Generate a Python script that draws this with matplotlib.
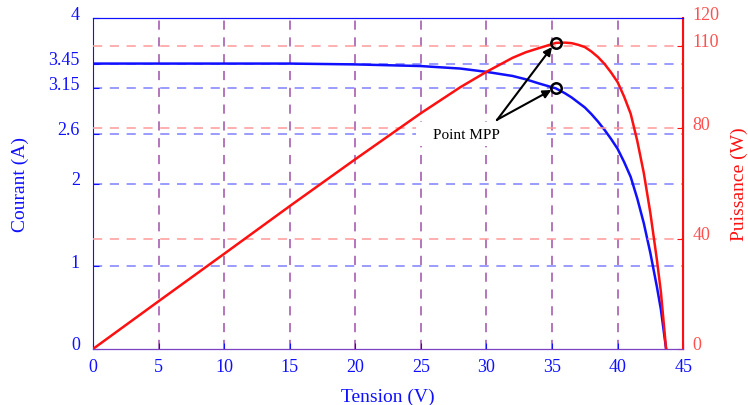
import numpy as np
import matplotlib.pyplot as plt
import matplotlib.transforms as mtransforms
from matplotlib.patches import Rectangle

plt.rcParams['font.family'] = ['Liberation Serif', 'DejaVu Serif']

# values
tension = [0, 5, 10, 15, 20, 25, 28, 30, 32, 33, 34, 35.3, 36, 36.5, 37, 37.5, 38, 38.5, 39, 39.5,
           40, 40.5, 41, 41.5, 42, 42.5, 43, 43.3, 43.7]
courant = [3.45, 3.45, 3.45, 3.45, 3.44, 3.42, 3.39, 3.35, 3.30, 3.26, 3.21, 3.15, 3.09, 3.04, 2.98,
           2.92, 2.84, 2.75, 2.65, 2.54, 2.42, 2.26, 2.08, 1.82, 1.52, 1.16, 0.75, 0.48, 0.0]
puissance = [0, 17.3, 34.5, 51.8, 68.8, 85.5, 94.9, 100.5, 105.6, 107.6, 109.1, 111.0, 111.1, 110.9,
             110.3, 109.5, 107.9, 105.9, 103.4, 100.3, 96.8, 91.5, 85.3, 75.5, 63.8, 49.3, 32.3, 20.8, 0]

v_mpp = 35.3
i_mpp = 3.15
p_mpp = 111.0

x_ticks = [0, 5, 10, 15, 20, 25, 30, 35, 40, 45]
i_ticks = [0, 1, 2, 2.6, 3.15, 3.45, 4]
p_ticks = [0, 40, 80, 110, 120]

blue = '#1010ff'
red = '#ff1010'

fig = plt.figure(figsize=(7.48, 4.06), dpi=100)
ax = fig.add_axes([0.1243, 0.138, 0.789, 0.815])
ax2 = ax.twinx()

ax.set_xlim(0, 45)
ax.set_ylim(0, 4)
ax2.set_ylim(0, 120)

# grid lines
for x in x_ticks[1:-1]:
    ax.axvline(x, color='#a050a8', ls=(0, (6, 5)), lw=1.1, zorder=1)
for y in i_ticks[1:-1]:
    ax.axhline(y, color='#8080ff', ls=(0, (6, 5)), lw=1.1, zorder=1)
for y in p_ticks[1:-1]:
    ax2.axhline(y, color='#ff9a9a', ls=(0, (6, 5)), lw=1.1, zorder=1)

# white box behind the label (hides grid only)
ax2.add_patch(Rectangle((24.6, 73.6), 9.5, 8.7, facecolor='white', edgecolor='none', zorder=2))

ax.plot(tension, courant, color=blue, lw=1.8, zorder=3)
ax2.plot(tension, puissance, color=red, lw=1.8, zorder=3)

ax.plot(v_mpp, i_mpp, 'o', mfc='none', mec='black', mew=1.8, ms=7.5, zorder=5)
ax2.plot(v_mpp, p_mpp, 'o', mfc='none', mec='black', mew=1.8, ms=7.5, zorder=5)

# annotation arrows
ax.annotate('', xy=(v_mpp - 0.35, i_mpp - 0.02), xytext=(30.8, 2.77),
            arrowprops=dict(arrowstyle='-|>', color='black', lw=1.5, mutation_scale=12,
                            shrinkA=0, shrinkB=0), zorder=6)
ax2.annotate('', xy=(v_mpp - 0.3, p_mpp - 1.5), xytext=(30.8, 83),
             arrowprops=dict(arrowstyle='-|>', color='black', lw=1.5, mutation_scale=12,
                             shrinkA=0, shrinkB=0), zorder=6)
ax2.text(28.5, 77.7, 'Point MPP', fontsize=11, ha='center', va='center', color='black', zorder=6)

ax.set_xticks(x_ticks)
ax.set_yticks(i_ticks)
ax.set_yticklabels(['0', '1', '2', '2.6', '3.15', '3.45', '4'])
ax2.set_yticks(p_ticks)

ax.tick_params(axis='x', direction='in', colors=blue, labelsize=13, length=4, pad=6.5)
ax.tick_params(axis='y', direction='in', colors=blue, labelsize=13, length=4, pad=9.5)
ax2.tick_params(axis='y', direction='in', colors=red, labelcolor='#ff5050', labelsize=13, length=4, pad=6.5)

# tick labels sit slightly above their ticks
shift = mtransforms.ScaledTranslation(0, 6 / 100, fig.dpi_scale_trans)
for lab in ax.get_yticklabels() + ax2.get_yticklabels():
    lab.set_transform(lab.get_transform() + shift)

ax.set_xlabel('Tension (V)', color=blue, fontsize=14, labelpad=9)
ax.set_ylabel('Courant (A)', color=blue, fontsize=14, labelpad=14)
ax2.set_ylabel('Puissance (W)', color=red, fontsize=14, labelpad=8)

for s in ['left', 'top', 'bottom']:
    ax.spines[s].set_color(blue)
ax2.spines['right'].set_color(red)
ax2.spines['right'].set_linewidth(1.5)
ax2.spines['left'].set_visible(False)
ax2.spines['top'].set_color(blue)
ax2.spines['bottom'].set_color('#8040c0')

fig.savefig('out.png', dpi=100)
